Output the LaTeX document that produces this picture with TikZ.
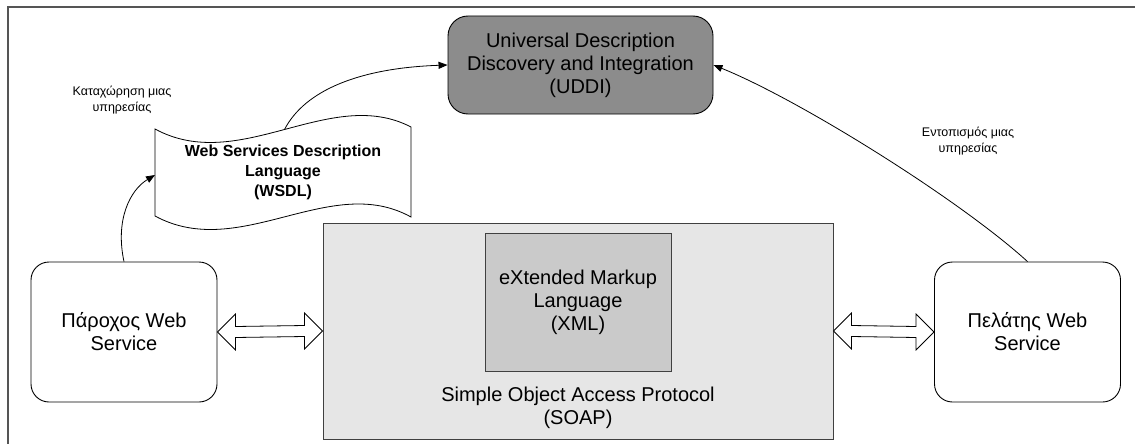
\documentclass[tikz,border=0pt]{standalone}
\usepackage{fontspec}
\setmainfont{Liberation Sans}
\usetikzlibrary{arrows.meta,calc}
\definecolor{uddigray}{RGB}{140,140,140}
\definecolor{soapgray}{RGB}{230,230,230}
\definecolor{xmlgray}{RGB}{202,202,202}
\definecolor{framegray}{RGB}{85,85,85}
\begin{document}
\begin{tikzpicture}[x=1pt,y=-1pt,
  bigtext/.style={font=\fontsize{20}{23}\selectfont, align=center},
  roundbox/.style={draw=black, line width=0.9pt, rounded corners=18pt, minimum width=186pt, minimum height=140pt, inner sep=0pt, bigtext},
  uddibox/.style={draw=black, line width=0.9pt, fill=uddigray, rounded corners=20pt, minimum width=265pt, minimum height=98pt, inner sep=0pt, bigtext},
  soapbox/.style={draw=black!75, line width=0.9pt, fill=soapgray, minimum width=510pt, minimum height=216pt, inner sep=0pt},
  xmlbox/.style={draw=black!75, line width=0.9pt, fill=xmlgray, minimum width=186pt, minimum height=138pt, inner sep=0pt, bigtext},
  wsdltext/.style={font=\bfseries\fontsize{16}{20}\selectfont, align=center},
  smalllabel/.style={font=\fontsize{12.5}{16}\selectfont, align=center},
  wave/.style={draw=black, line width=0.8pt, fill=white},
  arr/.style={draw=black, line width=0.8pt, -{Triangle[length=9pt,width=7pt]}},
  dblarrow/.style={draw=black, line width=0.8pt, fill=white, line join=miter}
]
\useasboundingbox (0,0) rectangle (1135,444);
\fill[white] (0,0) rectangle (1135,444);
% frame
\draw[framegray, line width=2pt] (8,444) -- (8,7) -- (1135,7);

% nodes
\node[uddibox] (uddi) at (580.5,65) {Universal Description\\Discovery and Integration\\(UDDI)};
\node[roundbox] (prov) at (124,332) {Πάροχος Web\\Service};
\node[roundbox] (client) at (1027.5,332) {Πελάτης Web\\Service};
\node[soapbox] (soap) at (578,331) {};
\node[xmlbox] (xml) at (578,302) {eXtended Markup\\Language\\(XML)};
\node[bigtext] (soaptxt) at (578,408) {Simple Object Access Protocol\\(SOAP)};

% WSDL document shape
\draw[wave] (155,129) .. controls (240,175) and (330,85) .. (411,127) coordinate[pos=0.5] (wtop)
  -- (411,217) .. controls (330,172) and (240,262) .. (155,216) -- cycle;
\coordinate (wsdlL) at (155,175);
\node[wsdltext] (wsdl) at (283,172) {Web Services Description\\Language\\(WSDL)};

% labels
\node[smalllabel] (reg) at (122,100) {Καταχώρηση μιας\\υπηρεσίας};
\node[smalllabel] (find) at (968,141) {Εντοπισμός μιας\\υπηρεσίας};

% connectors
\draw[arr] (prov.north) .. controls (115,220) and (130,190) .. (wsdlL);
\draw[arr] (wtop) .. controls (305,90) and (360,68) .. (uddi.west);
\draw[arr] (client.north) .. controls (960,200) and (800,100) .. (uddi.east);

% double block arrows
\draw[dblarrow] (prov.east) -- ++(18,-18) -- ++(0,12.5) -- ($(soap.west)+(-18,-5.5)$) -- ++(0,-12.5) -- (soap.west) -- ++(-18,18) -- ++(0,-12.5) -- ($(prov.east)+(18,5.5)$) -- ++(0,12.5) -- cycle;
\draw[dblarrow] (soap.east) -- ++(18,-18) -- ++(0,12.5) -- ($(client.west)+(-18,-5.5)$) -- ++(0,-12.5) -- (client.west) -- ++(-18,18) -- ++(0,-12.5) -- ($(soap.east)+(18,5.5)$) -- ++(0,12.5) -- cycle;
\end{tikzpicture}
\end{document}
